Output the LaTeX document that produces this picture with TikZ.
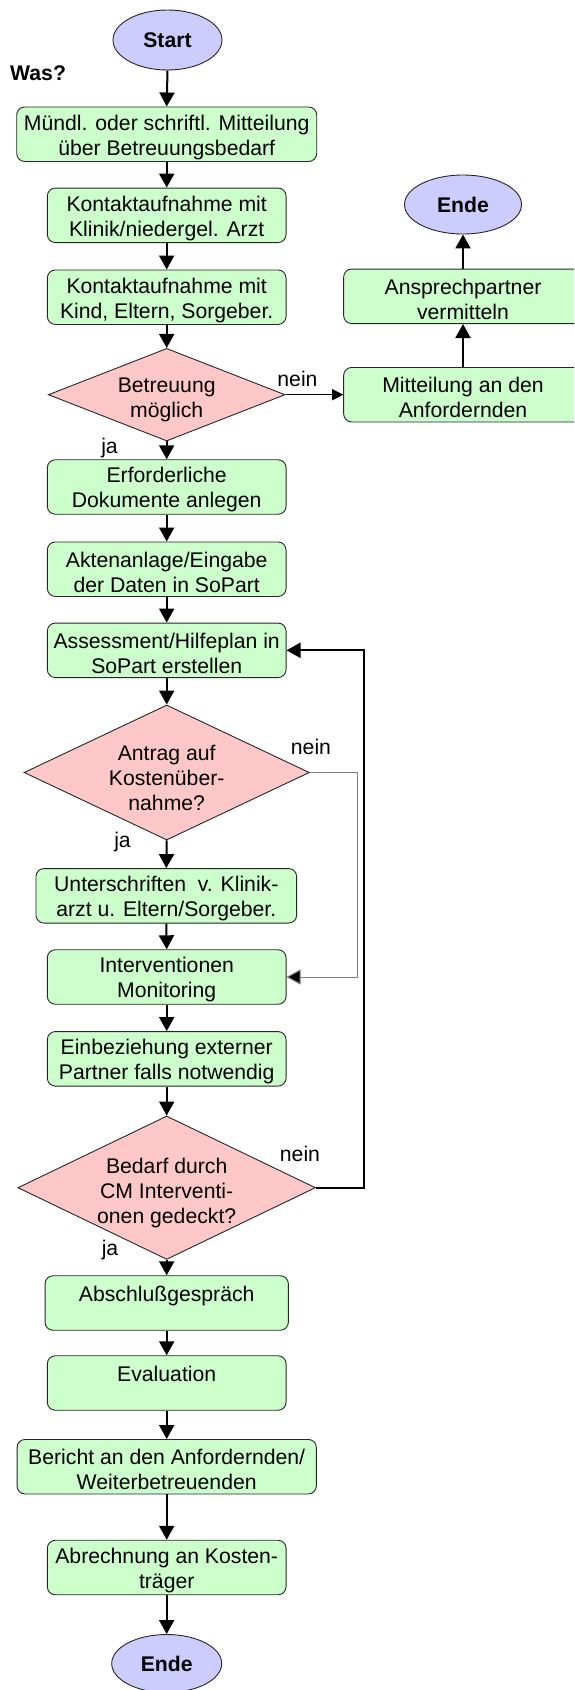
\documentclass[tikz,border=0pt]{standalone}
\usepackage{fontspec}
\setmainfont{Liberation Sans}
\usetikzlibrary{shapes.geometric,arrows.meta}
\definecolor{boxgreen}{HTML}{CCFFCC}
\definecolor{decpink}{HTML}{FFC8C8}
\definecolor{termblue}{HTML}{CCCCFF}
% a rounded process box with its two lines of text set slightly low
\newcommand\procbox[4][]{%
  \node[stepbox,#1] (#2) at #3 {};
  \node[txt] (#2-t) at ([yshift=-3pt]#2.center) {#4};}
\begin{document}
\begin{tikzpicture}[x=1pt,y=-1pt,
  txt/.style={font=\fontsize{21.2pt}{25pt}\selectfont, align=center, inner sep=0pt},
  stepbox/.style={draw=black!85, line width=0.9pt, fill=boxgreen,
    rounded corners=8pt, minimum width=238.7pt, minimum height=54.5pt, inner sep=0pt},
  decision/.style={diamond, draw=black!85, line width=0.9pt, fill=decpink, inner sep=0pt},
  term/.style={ellipse, draw=black!85, line width=0.9pt, fill=termblue, inner sep=0pt,
    font=\fontsize{21.2pt}{25pt}\selectfont\bfseries},
  flow/.style={line width=2pt, -{Triangle[length=14pt,width=15pt]}},
  thinflow/.style={line width=1pt, -{Triangle[length=11pt,width=11pt]}},
  greyflow/.style={line width=1pt, draw=black!50, -{Triangle[length=14pt,width=15pt,fill=black]}}
]
\clip (0,0) rectangle (574,1690);

% main column
\node[term, minimum width=109pt, minimum height=60pt] (start) at (167.5,40) {Start};
\node[txt, font=\fontsize{21.2pt}{25pt}\selectfont\bfseries, anchor=west] (was) at (10,73) {Was?};
\procbox[minimum width=300pt]{b1}{(166.7,134.2)}{Mündl. oder schriftl. Mitteilung\\über Betreuungsbedarf}
\procbox{b2}{(166.7,215.3)}{Kontaktaufnahme mit\\Klinik/niedergel. Arzt}
\procbox{b3}{(166.7,297.2)}{Kontaktaufnahme mit\\Kind, Eltern, Sorgeber.}
\node[decision, minimum width=236.7pt, minimum height=92.6pt] (d1) at (166.7,394.7) {};
\node[txt] (d1t) at (166.7,400) {Betreuung\\möglich};
\procbox{erf}{(166.7,487)}{Erforderliche\\Dokumente anlegen}
\procbox{akte}{(166.7,569.2)}{Aktenanlage/Eingabe\\der Daten in SoPart}
\procbox{asses}{(166.7,650.3)}{Assessment/Hilfeplan in\\SoPart erstellen}
\node[decision, minimum width=285.3pt, minimum height=135pt] (d2) at (166.7,772.5) {};
\node[txt] (d2t) at (166.7,778) {Antrag auf\\Kostenüber-\\nahme?};
\procbox[minimum width=260.7pt]{unter}{(166.3,895.8)}{Unterschriften~ v. Klinik-\\arzt u. Eltern/Sorgeber.}
\procbox{interv}{(166.7,977)}{Interventionen\\Monitoring}
\procbox{einb}{(166.7,1058.8)}{Einbeziehung externer\\Partner falls notwendig}
\node[decision, minimum width=297.6pt, minimum height=143.4pt] (d3) at (166.7,1187.7) {};
\node[txt] (d3t) at (166.7,1193) {Bedarf durch\\CM Interventi-\\onen gedeckt?};
\procbox[minimum width=243.3pt]{absch}{(166.7,1303)}{Abschlußgespräch\\~}
\procbox{eval}{(166.7,1383)}{Evaluation\\~}
\procbox[minimum width=299.3pt]{bericht}{(166.7,1466.7)}{Bericht an den Anfordernden/\\Weiterbetreuenden}
\procbox{abr}{(166.7,1567.5)}{Abrechnung an Kosten-\\träger}
\node[term, minimum width=110pt, minimum height=58pt] (ende2) at (166.7,1663.5) {Ende};

% side branch
\procbox{mitt}{(463,394.7)}{Mitteilung an den\\Anfordernden}
\procbox{ansp}{(463,296.3)}{Ansprechpartner\\vermitteln}
\node[term, minimum width=117pt, minimum height=59pt] (ende1) at (463,204.5) {Ende};

% branch labels
\node[txt] (nein1) at (297.5,379) {nein};
\node[txt] (ja1) at (109.5,448) {ja};
\node[txt] (nein2) at (311,747) {nein};
\node[txt] (ja2) at (122.5,842) {ja};
\node[txt] (nein3) at (300,1154) {nein};
\node[txt] (ja3) at (110,1250) {ja};

% connectors
\foreach \a/\b in {start/b1, b1/b2, b2/b3, b3/d1, d1/erf, erf/akte, akte/asses,
                   asses/d2, d2/unter, unter/interv, interv/einb, einb/d3,
                   d3/absch, absch/eval, eval/bericht, bericht/abr, abr/ende2}
  \draw[flow] (\a.south) -- (\b.north);
\draw[thinflow] (d1.east) -- (mitt.west);
\draw[flow] (mitt.north) -- (ansp.south);
\draw[flow] (ansp.north) -- (ende1.south);

\coordinate (innerx) at (357,0);
\coordinate (outerx) at (364,0);
\draw[greyflow] (d2.east) -- (d2.east -| innerx) |- (interv.east);
\draw[flow] (d3.east) -- (d3.east -| outerx) |- (asses.east);
\end{tikzpicture}
\end{document}
